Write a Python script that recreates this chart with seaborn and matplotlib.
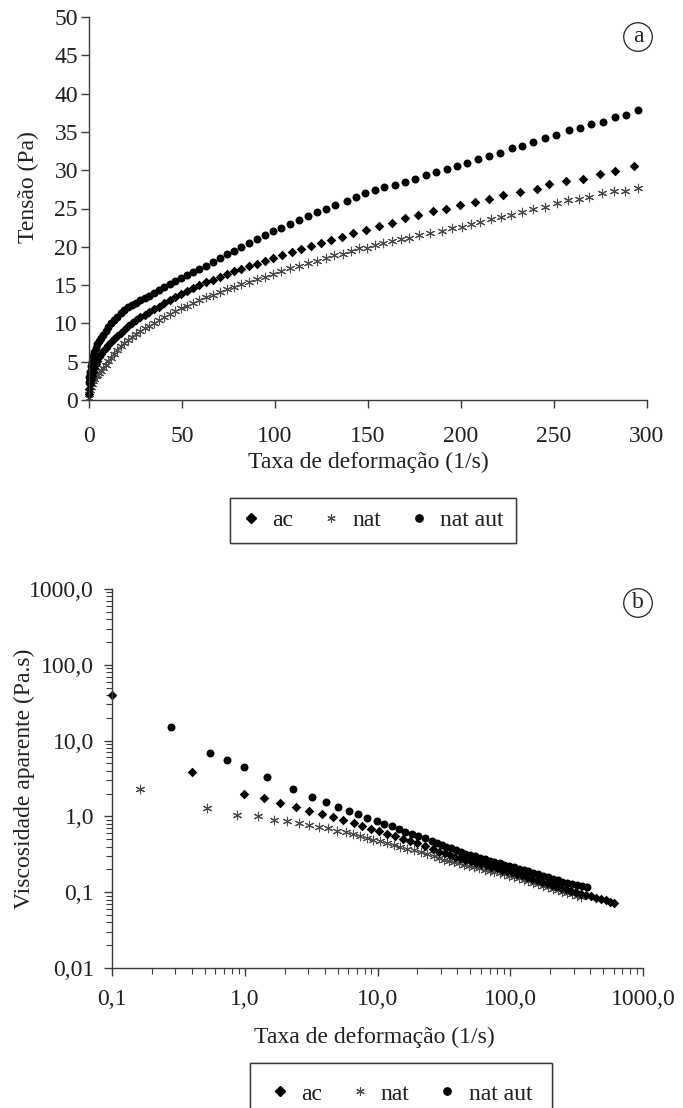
import matplotlib
matplotlib.use('Agg')
import matplotlib.pyplot as plt
import seaborn as sns
from matplotlib.lines import Line2D
from matplotlib.ticker import FixedLocator, FixedFormatter, LogLocator, NullFormatter

# ---------------------------------------------------------
# dados (a): taxa de deformação (1/s) x tensão (Pa)
# ---------------------------------------------------------
rate_a_nataut = [0, 0.2, 0.5, 0.9, 1.4, 2.0, 2.7, 3.5, 4.4, 5.4, 6.5, 7.7, 9.0, 10.4, 11.9,
                 13.5, 15.2, 17.0, 18.9, 20.9, 23.0, 25.2, 27.5, 29.9, 32.4, 35.0, 37.7, 40.5,
                 43.4, 46.4, 49.5, 52.7, 56.0, 59.4, 62.9, 66.5, 70.2, 74.0, 77.9, 81.9, 86.0,
                 90.2, 94.5, 98.9, 103.4, 108.0, 112.7, 117.5, 122.4, 127.4, 132.5, 138.5,
                 143.5, 148.4, 153.6, 158.8, 164.5, 169.9, 175.3, 181.0, 186.4, 192.3, 198.0,
                 203.4, 209.3, 215.0, 221.0, 227.2, 232.8, 238.9, 245.1, 251.2, 257.9, 263.8,
                 269.9, 276.3, 282.6, 288.7, 295.3]
stress_a_nataut = [2.3, 3.0, 3.7, 4.4, 5.0, 5.7, 6.3, 6.8, 7.3, 7.7, 8.1, 8.5, 9.0, 9.5, 10.0,
                   10.5, 10.9, 11.3, 11.7, 12.1, 12.4, 12.7, 13.0, 13.3, 13.6, 14.0, 14.3, 14.7,
                   15.1, 15.5, 15.9, 16.3, 16.7, 17.1, 17.5, 18.0, 18.5, 19.0, 19.5, 20.0, 20.5,
                   21.0, 21.5, 22.0, 22.5, 23.0, 23.5, 24.0, 24.5, 25.0, 25.5, 26.0,
                   26.5, 27.0, 27.4, 27.8, 28.1, 28.5, 28.9, 29.4, 29.7, 30.1, 30.6,
                   31.0, 31.5, 31.9, 32.3, 32.9, 33.2, 33.7, 34.2, 34.6, 35.2, 35.5,
                   36.0, 36.3, 36.9, 37.2, 37.8]

rate_a_ac = [0, 0.2, 0.5, 0.9, 1.4, 2.0, 2.7, 3.5, 4.4, 5.4, 6.5, 7.7, 9.0, 10.4, 11.9, 13.5,
             15.2, 17.0, 18.9, 20.9, 23.0, 25.2, 27.5, 29.9, 32.4, 35.0, 37.7, 40.5, 43.4, 46.4,
             49.5, 52.7, 56.0, 59.4, 62.9, 66.5, 70.2, 74.0, 77.9, 81.9, 86.0, 90.2, 94.5, 98.9,
             103.9, 109.0, 114.2, 119.5, 124.8, 130.2, 135.8, 142.1, 148.9, 155.7, 163.1, 169.9,
             177.0, 184.8, 192.1, 199.4, 207.3, 215.0, 222.7, 231.9, 240.7, 247.3, 256.4, 265.4,
             274.9, 282.9, 292.8]
stress_a_ac = [0.8, 1.5, 2.1, 2.6, 3.1, 3.7, 4.2, 4.7, 5.1, 5.6, 6.0, 6.4, 6.8, 7.2, 7.6, 8.0,
               8.4, 8.8, 9.2, 9.6, 10.0, 10.4, 10.8, 11.1, 11.5, 11.9, 12.2, 12.6, 13.0, 13.4,
               13.9, 14.2, 14.6, 15.0, 15.4, 15.7, 16.1, 16.4, 16.8, 17.1, 17.5, 17.8, 18.2, 18.5,
               18.9, 19.3, 19.7, 20.1, 20.5, 20.9, 21.3, 21.8, 22.2, 22.7, 23.1, 23.7,
               24.2, 24.7, 25.0, 25.5, 25.9, 26.3, 26.8, 27.2, 27.6, 28.2, 28.6, 28.9,
               29.5, 29.9, 30.5]

rate_a_nat = [0, 0.2, 0.5, 0.9, 1.4, 2.0, 2.7, 3.5, 4.4, 5.4, 6.5, 7.7, 9.0, 10.4, 11.9, 13.5,
              15.2, 17.0, 18.9, 20.9, 23.0, 25.2, 27.5, 29.9, 32.4, 35.0, 37.7, 40.5, 43.4, 46.4,
              49.5, 52.7, 56.0, 59.4, 62.9, 66.5, 70.2, 74.0, 77.9, 81.9, 86.0, 90.2, 94.5, 98.9,
              103.4, 108.0, 112.7, 117.5, 122.4, 127.4, 131.9, 136.4, 140.9, 145.3, 149.3, 153.6,
              158.2, 162.7, 167.6, 172.2, 177.6, 183.3, 189.6, 195.1, 200.4, 205.4, 210.2, 216.0,
              221.7, 227.0, 233.0, 238.9, 245.1, 251.4, 257.3, 263.2, 268.6, 276.0, 282.2, 288.2,
              295.3]
stress_a_nat = [0.3, 0.8, 1.3, 1.7, 2.1, 2.5, 2.8, 3.1, 3.3, 3.5, 3.8, 4.2, 4.6, 5.1, 5.5, 6.0,
                6.5, 7.0, 7.4, 7.8, 8.2, 8.6, 9.0, 9.4, 9.7, 10.1, 10.4, 10.8, 11.2, 11.6,
                12.0, 12.3, 12.7, 13.0, 13.4, 13.7, 14.1, 14.5, 14.8, 15.1, 15.4, 15.8, 16.1, 16.5,
                16.8, 17.2, 17.5, 17.9, 18.2, 18.6, 18.9, 19.1, 19.5, 19.8, 19.9, 20.3,
                20.5, 20.8, 21.0, 21.2, 21.5, 21.8, 22.1, 22.4, 22.6, 23.0, 23.3, 23.6,
                23.9, 24.2, 24.6, 24.9, 25.2, 25.7, 26.1, 26.2, 26.5, 27.0, 27.3, 27.3,
                27.7]

# ---------------------------------------------------------
# dados (b): taxa de deformação (1/s) x viscosidade aparente (Pa.s)
# ---------------------------------------------------------
rate_b_nataut = [0.28, 0.55, 0.73, 0.99, 1.47, 2.30, 3.20, 4.07, 5.02, 6.11, 7.18, 8.4, 9.9,
                 11.2, 12.8, 14.4, 16.2, 18.1, 20.3, 22.8, 25.6, 28, 30.5, 33, 36, 39, 42.5,
                 46, 50, 54.5, 59, 64, 70, 76, 83, 90, 98, 107, 116, 126, 137, 149, 162, 176,
                 192, 209, 227, 247, 269, 293, 319, 347, 378]
visc_b_nataut = [15.0, 6.8, 5.6, 4.55, 3.36, 2.31, 1.80, 1.54, 1.33, 1.19, 1.06, 0.95, 0.86,
                 0.80, 0.74, 0.68, 0.63, 0.59, 0.55, 0.52, 0.48, 0.445, 0.420, 0.400, 0.378,
                 0.359, 0.339, 0.324, 0.312, 0.297, 0.285, 0.273, 0.261, 0.250, 0.240, 0.231,
                 0.221, 0.212, 0.204, 0.196, 0.189, 0.181, 0.173, 0.165, 0.157, 0.151, 0.145,
                 0.138, 0.134, 0.128, 0.124, 0.120, 0.116]

rate_b_ac = [0.10, 0.40, 0.99, 1.40, 1.85, 2.44, 3.05, 3.79, 4.66, 5.5, 6.6, 7.7, 8.95, 10.3,
             11.7, 13.5, 15.5, 17.6, 19.9, 22.9, 26.1, 29, 32, 35, 38.5, 42, 46, 50.5, 55, 60,
             66, 72, 79, 86, 94, 103, 112, 122, 133, 145, 158, 172, 188, 205, 223, 243, 265,
             289, 315, 343, 373, 406, 442, 481, 523, 569, 600]
visc_b_ac = [40.0, 3.83, 1.99, 1.74, 1.51, 1.33, 1.17, 1.08, 0.98, 0.89, 0.82, 0.74, 0.69,
             0.64, 0.59, 0.545, 0.51, 0.47, 0.44, 0.41, 0.375, 0.341, 0.325, 0.309, 0.294,
             0.281, 0.267, 0.255, 0.245, 0.235, 0.226, 0.217, 0.208, 0.199, 0.191, 0.184,
             0.175, 0.167, 0.159, 0.151, 0.144, 0.138, 0.132, 0.126, 0.120, 0.114, 0.109,
             0.105, 0.100, 0.0956, 0.0917, 0.0879, 0.0844, 0.0811, 0.0780, 0.0749, 0.0730]

rate_b_nat = [0.163, 0.52, 0.88, 1.25, 1.65, 2.09, 2.56, 3.05, 3.6, 4.27, 4.95, 5.8, 6.5, 7.4,
              8.3, 9.3, 10.4, 11.7, 13.2, 14.8, 16.7, 18.7, 21.1, 23.7, 26.6, 29, 31.5, 34.5,
              37.5, 41, 45, 49, 53.5, 58.5, 64, 70, 76, 83, 90, 98, 107, 116, 126, 137, 149,
              162, 176, 192, 209, 227, 247, 269, 293, 319, 340]
visc_b_nat = [2.31, 1.29, 1.05, 1.0, 0.91, 0.87, 0.82, 0.78, 0.72, 0.70, 0.65, 0.62, 0.58, 0.55,
              0.52, 0.49, 0.47, 0.45, 0.42, 0.39, 0.375, 0.36, 0.34, 0.32, 0.30, 0.283, 0.270,
              0.258, 0.251, 0.241, 0.231, 0.222, 0.215, 0.207, 0.198, 0.193, 0.186, 0.180,
              0.173, 0.166, 0.160, 0.153, 0.147, 0.140, 0.134, 0.128, 0.122, 0.116, 0.111,
              0.107, 0.102, 0.0985, 0.0942, 0.0903, 0.0874]

series_names = ['ac', 'nat', 'nat aut']
ticks_a_x = [0, 50, 100, 150, 200, 250, 300]
ticks_a_y = [0, 5, 10, 15, 20, 25, 30, 35, 40, 45, 50]
ticks_b_x = [0.1, 1, 10, 100, 1000]
labels_b_x = ['0,1', '1,0', '10,0', '100,0', '1000,0']
ticks_b_y = [0.01, 0.1, 1, 10, 100, 1000]
labels_b_y = ['0,01', '0,1', '1,0', '10,0', '100,0', '1000,0']

# ---------------------------------------------------------
# estilo
# ---------------------------------------------------------
sns.set_style('ticks')
plt.rcParams['font.family'] = ['Liberation Serif', 'DejaVu Serif']
txt = '#231f20'
ax_col = '#3a3a3a'
fs = 17

fig = plt.figure(figsize=(6.83, 11.08), dpi=100, facecolor='white')
W, H = 683, 1108
ax_a = fig.add_axes([89 / W, 1 - 400 / H, 558 / W, 383 / H])
ax_b = fig.add_axes([112 / W, 1 - 968 / H, 531 / W, 379 / H])

mk = {
    'ac': dict(marker='D', color='black', s=24, linewidth=0),
    'nat': dict(marker=(6, 2, 0), color='#4a4a4a', s=38, linewidth=0.8),
    'nat aut': dict(marker='o', color='black', s=33, linewidth=0),
}

# ---------------------------------------------------------
# (a) tensão
# ---------------------------------------------------------
sns.scatterplot(x=rate_a_nat, y=stress_a_nat, ax=ax_a, legend=False, **mk['nat'])
sns.scatterplot(x=rate_a_ac, y=stress_a_ac, ax=ax_a, legend=False, **mk['ac'])
sns.scatterplot(x=rate_a_nataut, y=stress_a_nataut, ax=ax_a, legend=False, **mk['nat aut'])

ax_a.set_xlim(0, 300)
ax_a.set_ylim(0, 50)
ax_a.set_xticks(ticks_a_x)
ax_a.set_yticks(ticks_a_y)
ax_a.set_xlabel('Taxa de deformação (1/s)', fontsize=fs, color=txt)
ax_a.set_ylabel('Tensão (Pa)', fontsize=fs, color=txt)
ax_a.xaxis.set_label_coords(0.5, -0.135)
ax_a.yaxis.set_label_coords(-0.09, 0.555)
ax_a.tick_params(axis='both', labelsize=fs, colors=ax_col, labelcolor=txt, direction='out',
                 length=6, width=1)
ax_a.tick_params(axis='x', pad=13)
ax_a.tick_params(axis='y', pad=2)

# ---------------------------------------------------------
# (b) viscosidade
# ---------------------------------------------------------
sns.scatterplot(x=rate_b_nat, y=visc_b_nat, ax=ax_b, legend=False, **mk['nat'])
sns.scatterplot(x=rate_b_ac, y=visc_b_ac, ax=ax_b, legend=False, **mk['ac'])
sns.scatterplot(x=rate_b_nataut, y=visc_b_nataut, ax=ax_b, legend=False, **mk['nat aut'])

ax_b.set_xscale('log')
ax_b.set_yscale('log')
ax_b.set_xlim(0.1, 1000)
ax_b.set_ylim(0.01, 1000)
ax_b.xaxis.set_major_locator(FixedLocator(ticks_b_x))
ax_b.xaxis.set_major_formatter(FixedFormatter(labels_b_x))
ax_b.yaxis.set_major_locator(FixedLocator(ticks_b_y))
ax_b.yaxis.set_major_formatter(FixedFormatter(labels_b_y))
ax_b.xaxis.set_minor_locator(LogLocator(base=10, subs=range(2, 10)))
ax_b.yaxis.set_minor_locator(LogLocator(base=10, subs=range(2, 10)))
ax_b.xaxis.set_minor_formatter(NullFormatter())
ax_b.yaxis.set_minor_formatter(NullFormatter())
ax_b.set_xlabel('Taxa de deformação (1/s)', fontsize=fs, color=txt)
ax_b.set_ylabel('Viscosidade aparente (Pa.s)', fontsize=fs, color=txt)
ax_b.xaxis.set_label_coords(0.495, -0.155)
ax_b.yaxis.set_label_coords(-0.145, 0.5)
ax_b.tick_params(axis='both', which='major', labelsize=fs, colors=ax_col, labelcolor=txt,
                 direction='out', length=6, width=1)
ax_b.tick_params(axis='both', which='minor', colors=ax_col, direction='out', length=4, width=0.8)
ax_b.tick_params(axis='x', which='major', pad=9)
ax_b.tick_params(axis='y', which='major', pad=7)

for ax in (ax_a, ax_b):
    sns.despine(ax=ax)
    for side in ('left', 'bottom'):
        ax.spines[side].set_color(ax_col)
        ax.spines[side].set_linewidth(1)
    for coll in ax.collections:
        coll.set_clip_on(False)

# letras dos painéis
for letter, yy in (('a', 37), ('b', 603)):
    fig.text(638 / W, 1 - yy / H, letter, fontsize=fs, color=txt, ha='center', va='center',
             bbox=dict(boxstyle='circle,pad=0.16', fc='none', ec=txt, lw=0.9))

# legendas (a legenda de baixo fica cortada pela borda, como no original)
handles = [
    Line2D([], [], ls='none', marker='D', color='black', markersize=5.5),
    Line2D([], [], ls='none', marker=(6, 2, 0), color='#4a4a4a', markersize=6, markeredgewidth=0.8),
    Line2D([], [], ls='none', marker='o', color='black', markersize=5.2),
]
for top, left, bpad in ((498, 230, 0.5), (1063, 250, 0.85)):
    leg = fig.legend(handles, series_names, loc='upper left',
                     bbox_to_anchor=(left / W, 1 - top / H), borderaxespad=0,
                     ncol=3, fontsize=fs, frameon=True, fancybox=False, shadow=False,
                     borderpad=bpad, handlelength=0.8, handletextpad=0.5, columnspacing=1.2,
                     labelcolor=txt)
    leg.get_frame().set_edgecolor(txt)
    leg.get_frame().set_linewidth(1)
    fig.add_artist(leg)

fig.savefig('out.png', dpi=100, facecolor='white')
